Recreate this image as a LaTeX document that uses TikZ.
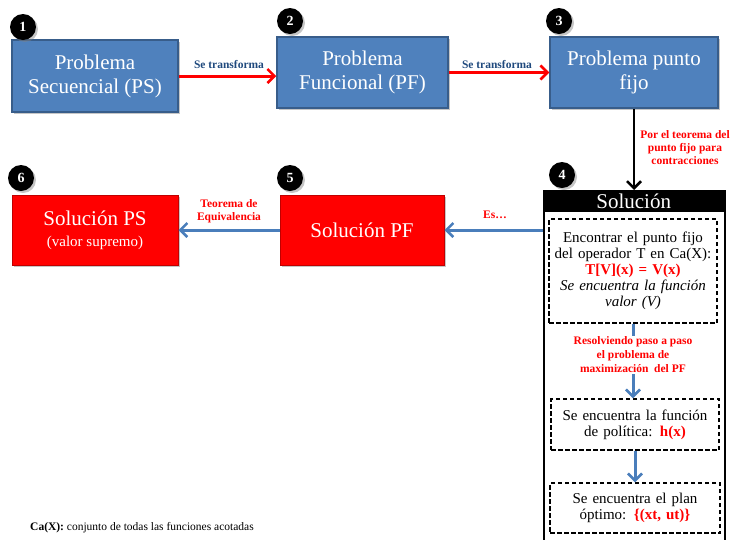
\documentclass[tikz,border=0pt]{standalone}
\usepackage{fontspec}
\setmainfont{Liberation Serif}
\usetikzlibrary{shadows,arrows.meta}
\definecolor{boxblue}{HTML}{4F81BD}
\definecolor{boxborder}{HTML}{385D8A}
\definecolor{navy}{HTML}{1F497D}
\definecolor{arrowblue}{HTML}{4A7EBB}
\definecolor{redborder}{HTML}{C00000}
\tikzset{
  shad/.style={drop shadow={opacity=0.45, shadow xshift=2pt, shadow yshift=-2pt}},
  bluebox/.style={draw=boxborder, line width=1.5pt, fill=boxblue, text=white, align=center,
    font=\fontsize{21}{24}\selectfont, shad, inner sep=0pt},
  redbox/.style={draw=redborder, line width=1pt, fill=red, text=white, align=center,
    font=\fontsize{21}{24}\selectfont, shad, inner sep=0pt},
  badge/.style={circle, fill=black, text=white, minimum size=26pt, inner sep=0pt,
    font=\fontsize{14}{14}\selectfont\bfseries, shad},
  dbox/.style={draw, line width=1.5pt, dash pattern=on 4.5pt off 2.5pt, fill=white, align=center,
    font=\fontsize{15}{16}\selectfont, inner sep=0pt},
  lbl/.style={font=\fontsize{11.5}{13}\selectfont\bfseries, align=center},
  redarrow/.style={draw=red, line width=3pt, -{Straight Barb[length=7pt,width=14pt,line width=2.5pt]}},
  bluearrow/.style={draw=arrowblue, line width=3pt, -{Straight Barb[length=7pt,width=14pt,line width=2.5pt]}},
  blackarrow/.style={draw=black, line width=2.5pt, -{Straight Barb[length=7pt,width=14pt,line width=2.5pt]}},
}
\begin{document}
\begin{tikzpicture}[x=1pt,y=-1pt]
\useasboundingbox (0,0) rectangle (734,539);
% top row
\node[bluebox, minimum width=166pt, minimum height=72pt] (b1) at (95,76) {Problema\\Secuencial (PS)};
\node[bluebox, minimum width=171pt, minimum height=71pt] (b2) at (362.5,72.5) {Problema\\Funcional (PF)};
\node[bluebox, minimum width=168pt, minimum height=71pt] (b3) at (634,72.5) {Problema punto\\fijo};
\node[badge] (n1) at (23,27) {1};
\node[badge] (n2) at (290,21) {2};
\node[badge] (n3) at (559,21) {3};
% second row
\node[redbox, minimum width=164pt, minimum height=70pt] (b5) at (362,230) {Solución PF};
\node[redbox, minimum width=166pt, minimum height=70pt] (b6) at (95,230) {Solución PS\\[-3pt]{\fontsize{15}{16}\selectfont (valor supremo)}};
\node[badge] (n5) at (290,178) {5};
\node[badge] (n6) at (21,178) {6};
% solution column
\node[draw, line width=1.5pt, minimum width=181pt, minimum height=360pt, anchor=north west, inner sep=0pt] (solout) at (543,190) {};
\node[fill=black, text=white, minimum width=181pt, minimum height=22pt, inner sep=0pt, anchor=north west,
  font=\fontsize{21}{21}\selectfont] (solhead) at (543,190) {Solución};
\node[badge] (n4) at (562,175) {4};
\node[dbox, minimum width=168pt, minimum height=104pt, text width=164pt] (d1) at (633,271)
  {Encontrar el punto fijo\\ del operador T en Ca(X):\\ \textcolor{red}{\textbf{T[V](x) = V(x)}}\\ \textit{Se encuentra la función}\\ \textit{valor (V)}};
\node[dbox, minimum width=168pt, minimum height=51pt, text width=164pt] (d2) at (635,424.5)
  {Se encuentra la función\\ de política: \textcolor{red}{\textbf{h(x)}}};
\node[dbox, minimum width=170pt, minimum height=50pt, text width=164pt] (d3) at (635,508)
  {Se encuentra el plan\\ óptimo: \textcolor{red}{\textbf{\{(xt, ut)\}}}};
% connectors
\draw[redarrow] (b1.east) -- (b1.east -| b2.west);
\draw[redarrow] (b2.east) -- (b2.east -| b3.west);
\draw[blackarrow] (b3.south) -- (solhead.north -| b3.south);
\draw[bluearrow] (b5.east -| solout.west) -- (b5.east);
\draw[bluearrow] (b5.west) -- (b6.east);
\draw[bluearrow] (d1.south) -- (d1.south |- d2.north);
\draw[bluearrow] (d2.south) -- (d2.south |- d3.north);
% labels
\node[lbl, text=navy] (l12) at (229,65) {Se transforma};
\node[lbl, text=navy] (l23) at (497,65) {Se transforma};
\node[lbl, text=red] (l34) at (685,148) {Por el teorema del\\ punto fijo para\\ contracciones};
\node[lbl, text=red] (l56) at (229,211) {Teorema de\\ Equivalencia};
\node[lbl, text=red] (ls5) at (495,215) {Es…};
\node[lbl, text=red, fill=white, inner sep=1pt, font=\fontsize{11.5}{14}\selectfont\bfseries] (ld12) at (633,355) {Resolviendo paso a paso\\ el problema de\\ maximización\ \ del PF};
\node[anchor=west, font=\fontsize{11.5}{13}\selectfont, inner sep=0pt] (foot) at (30,528) {\textbf{Ca(X):} conjunto de todas las funciones acotadas};
\end{tikzpicture}
\end{document}
